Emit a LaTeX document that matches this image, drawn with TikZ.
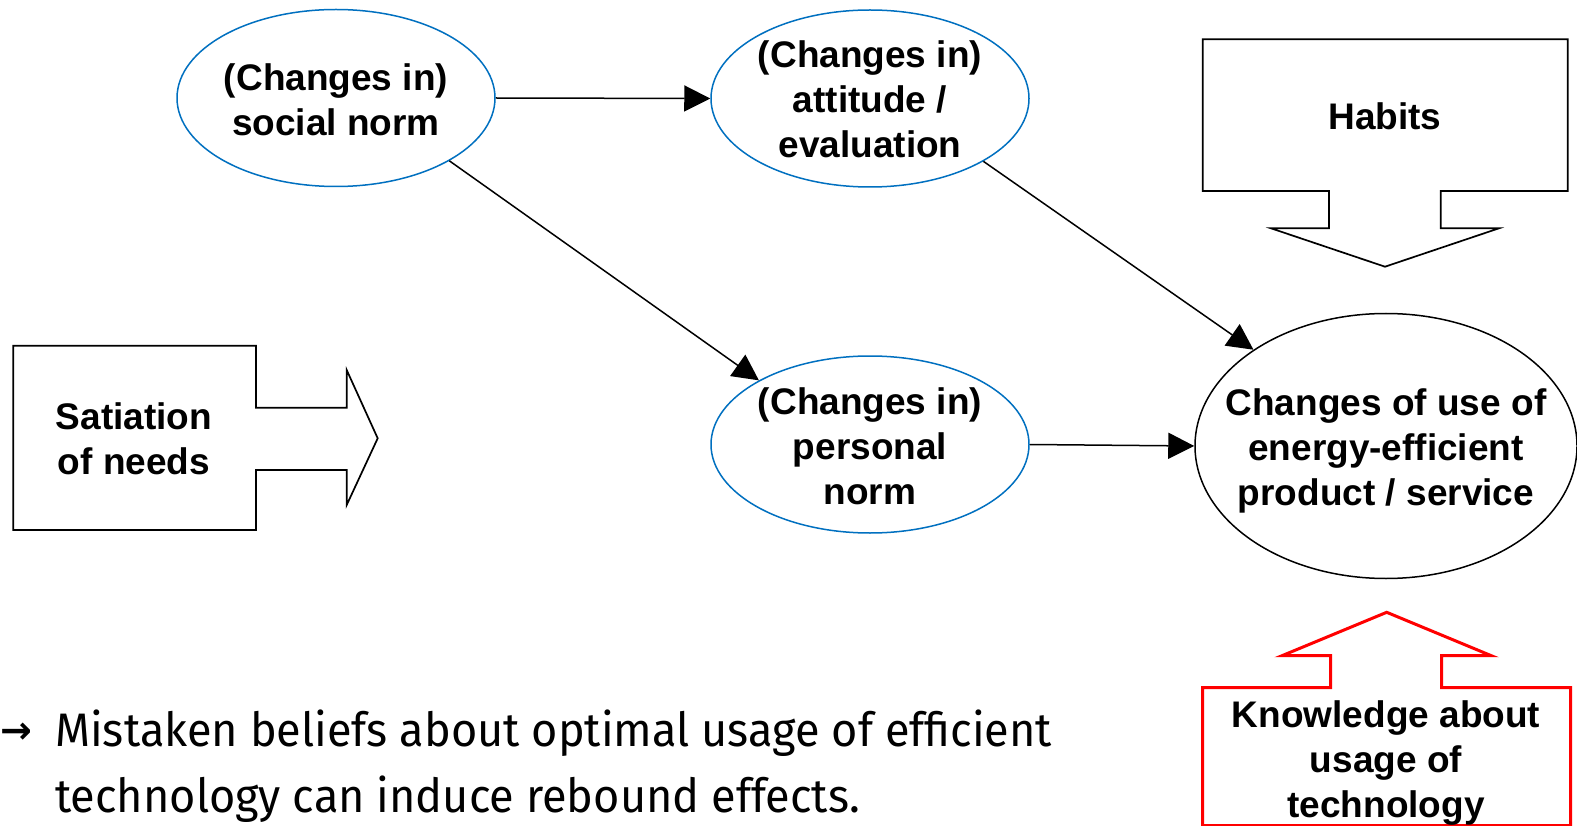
\documentclass[tikz,border=0pt]{standalone}
\usepackage{fontspec}
\setmainfont{Liberation Sans}
\IfFontExistsTF{FiraSans-Light.otf}
  {\newfontfamily\notefont{FiraSans-Light.otf}}
  {\newfontfamily\notefont{Fira Sans}}
\newfontfamily\symfont{DejaVu Sans}
\usetikzlibrary{shapes.geometric,arrows.meta}
\definecolor{normblue}{RGB}{0,112,192}
\definecolor{knowred}{RGB}{255,0,0}
\tikzset{
  oval/.style={ellipse, draw=normblue, line width=1.5pt, inner sep=0pt,
    minimum width=318pt, minimum height=177pt},
  bigoval/.style={ellipse, draw=black, line width=1.5pt, inner sep=0pt,
    minimum width=382pt, minimum height=265pt},
  lbl/.style={font=\bfseries\fontsize{37}{45}\selectfont, align=center, inner sep=0pt},
  link/.style={line width=1.5pt, -{Triangle[length=26pt,width=26pt]}},
  callout/.style={line width=1.7pt, draw=black, line join=miter},
  redcallout/.style={line width=3pt, draw=knowred, line join=miter},
  note/.style={anchor=base west, inner sep=0pt, font=\notefont\fontsize{47}{66}\selectfont},
}
% horizontal scale that gives the first note line its set width
\newlength\notew
\newsavebox\notebox
\begin{document}
\sbox\notebox{\notefont\fontsize{47}{66}\selectfont Mistaken beliefs about optimal usage of efficient}%
\setlength\notew{\wd\notebox}%
\pgfmathsetmacro\notesx{997/\notew}%
\begin{tikzpicture}[x=1pt,y=-1pt]
\useasboundingbox (0,0) rectangle (1577,826);
\fill[white] (0,0) rectangle (1577,826);

% ovals
\node[oval] (social) at (336,98) {};
\node[oval] (attitude) at (870,98.5) {};
\node[oval] (personal) at (870,444.5) {};
\node[bigoval] (use) at (1386,446) {};

\node[lbl] (socialtxt) at (336,100) {(Changes in)\\social norm};
\node[lbl] (attitudetxt) at (870,99.5) {(Changes in)\\attitude /\\evaluation};
\node[lbl] (personaltxt) at (870,446.5) {(Changes in)\\personal\\norm};
\node[lbl] (usetxt) at (1386,450.5) {Changes of use of\\energy-efficient\\product / service};

% connectors
\draw[link] (social.east) -- (attitude.west);
\draw[link] (social.-29.25) -- (personal.150.5);
\draw[link] (attitude.-29.2) -- (use.144.4);
\draw[link] (personal.east) -- (use.west);

% habits: down arrow callout
\draw[callout] (1202.7,39.3) -- (1567.7,39.3) -- (1567.7,191) -- (1440.7,191)
  -- (1440.7,228.3) -- (1499,228.3) -- (1385,266.7) -- (1271,228.3)
  -- (1329,228.3) -- (1329,191) -- (1202.7,191) -- cycle;
\node[lbl] (habits) at (1385,116.7) {Habits};

% satiation: right arrow callout
\draw[callout] (13.3,345.7) -- (256,345.7) -- (256,407.7) -- (346.7,407.7)
  -- (346.7,370) -- (377.7,438.3) -- (346.7,505) -- (346.7,470) -- (256,470)
  -- (256,530) -- (13.3,530) -- cycle;
\node[lbl] (satiation) at (134,439) {Satiation\\of needs};

% knowledge: up arrow callout
\draw[redcallout] (1202.7,825.5) -- (1202.7,687.7) -- (1330.7,687.7) -- (1330.7,655.7)
  -- (1282,655.7) -- (1386.7,612.3) -- (1491.3,655.7) -- (1441.7,655.7)
  -- (1441.7,687.7) -- (1570.5,687.7) -- (1570.5,825.5) -- cycle;
\node[lbl] (knowledge) at (1386,763) {Knowledge about\\usage of\\technology};

% conclusion note
\node[anchor=west, inner sep=0pt, font=\symfont\bfseries\fontsize{38}{40}\selectfont] (bullet) at (0,733) {→};
\node[note] (note1) at (55,746) {\scalebox{\notesx}[1]{Mistaken beliefs about optimal usage of efficient}};
\node[note] (note2) at (55,812.6) {\scalebox{\notesx}[1]{technology can induce rebound effects.}};
\end{tikzpicture}
\end{document}
